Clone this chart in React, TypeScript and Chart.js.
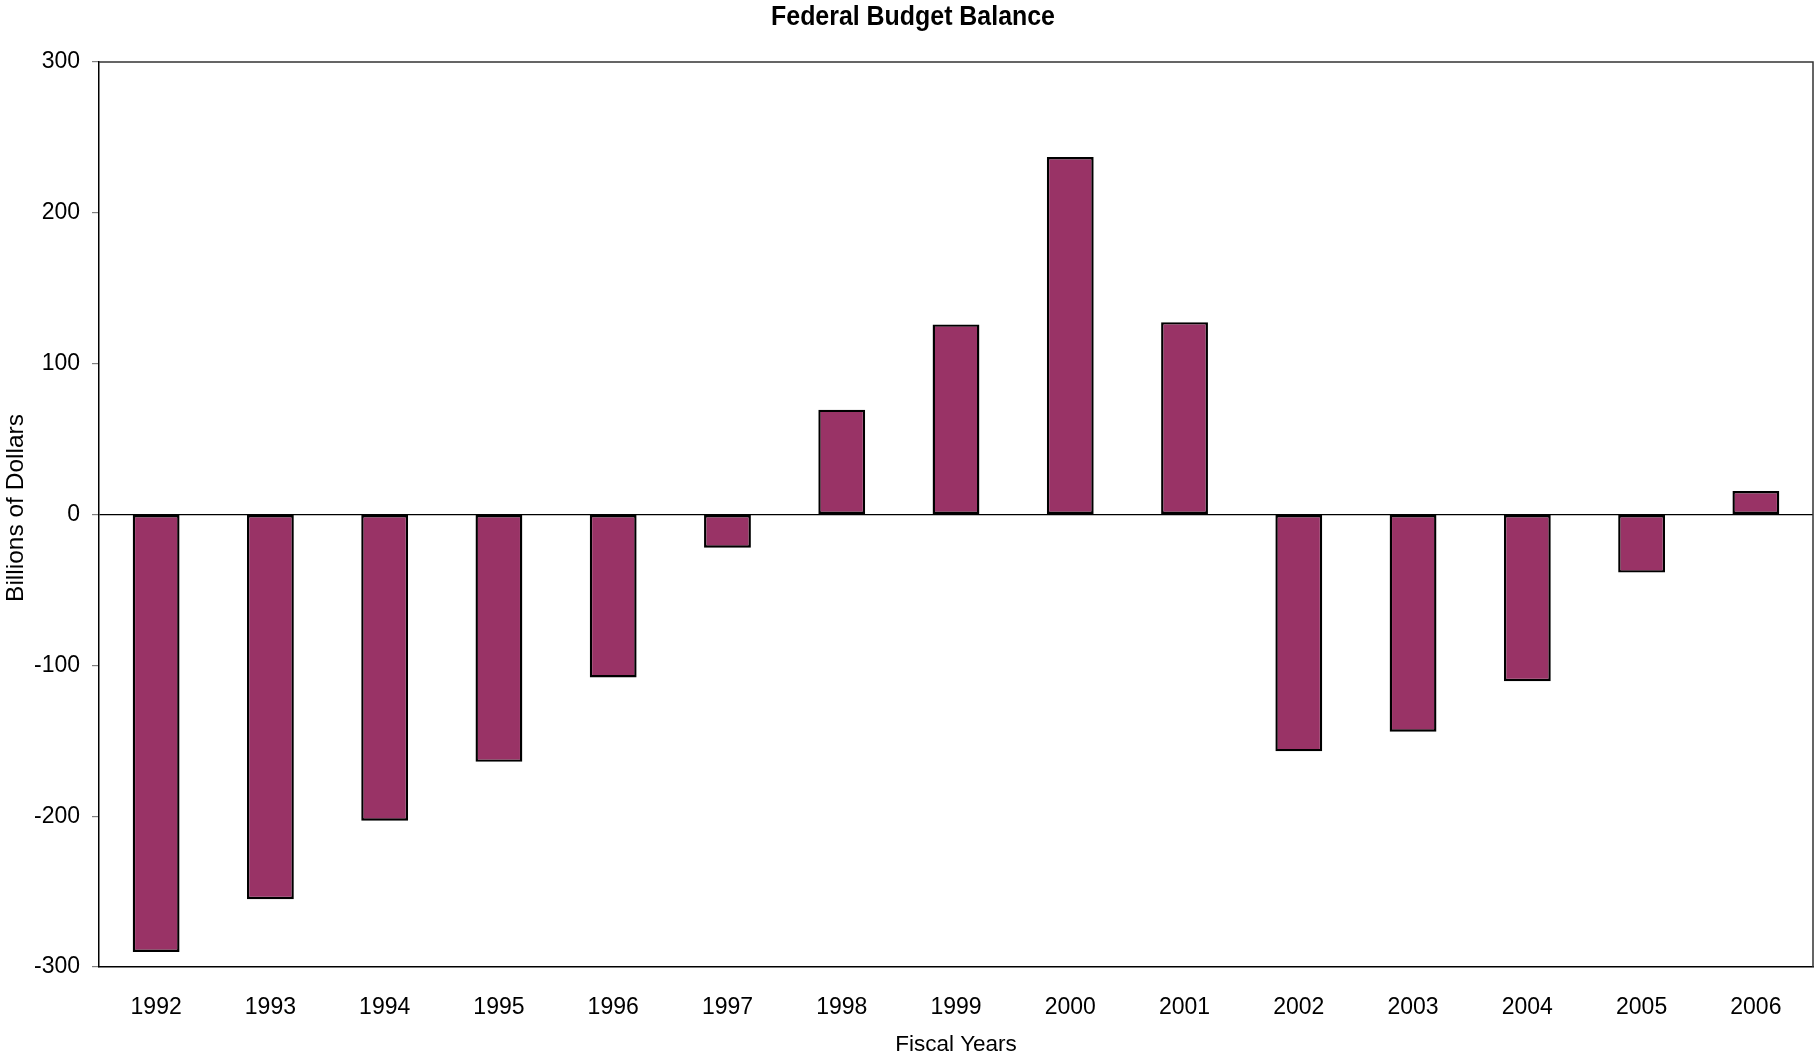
import React, { useEffect, useRef } from "react";
import { Chart, registerables } from "chart.js";

Chart.register(...registerables);

const years = ["1992", "1993", "1994", "1995", "1996", "1997", "1998", "1999", "2000", "2001", "2002", "2003", "2004", "2005", "2006"];
const balance = [-290, -255, -203, -164, -108, -22, 69.5, 126, 237, 127.5, -157, -144, -110.5, -38.5, 15.5];
const yTicks = [-300, -200, -100, 0, 100, 200, 300];
const chartTitle = "Federal Budget Balance";
const xTitle = "Fiscal Years";
const yTitle = "Billions of Dollars";

const FONT = "'Liberation Sans', Arial, sans-serif";

const textPlugin = {
  id: "texts",
  afterDraw(chart: any) {
    const ctx = chart.ctx;
    const a = chart.chartArea;
    ctx.save();
    // plot border (top and right)
    ctx.strokeStyle = "#333";
    ctx.lineWidth = 1.5;
    ctx.beginPath();
    ctx.moveTo(a.left, a.top);
    ctx.lineTo(a.right, a.top);
    ctx.lineTo(a.right, a.bottom);
    ctx.stroke();

    ctx.fillStyle = "#000";
    ctx.textBaseline = "alphabetic";
    ctx.textAlign = "center";
    // title
    ctx.save();
    ctx.font = `bold 28px ${FONT}`;
    ctx.translate(913, 25);
    ctx.scale(0.89, 1);
    ctx.fillText(chartTitle, 0, 0);
    ctx.restore();
    // x title
    ctx.font = `22.5px ${FONT}`;
    ctx.fillText(xTitle, (a.left + a.right) / 2, 1051);
    // y title
    ctx.save();
    ctx.font = `24.5px ${FONT}`;
    ctx.translate(23, 508);
    ctx.rotate(-Math.PI / 2);
    ctx.fillText(yTitle, 0, 0);
    ctx.restore();
    ctx.restore();
  },
};

export default function App() {
  const ref = useRef<HTMLCanvasElement>(null);
  useEffect(() => {
    document.body.style.margin = "0";
    const chart = new Chart(ref.current!, {
      type: "bar",
      data: {
        labels: years,
        datasets: [
          {
            data: balance,
            backgroundColor: "#993366",
            borderColor: "#000",
            borderWidth: 2.4,
            borderSkipped: false,
            barPercentage: 0.41,
            categoryPercentage: 1,
          },
        ],
      },
      options: {
        responsive: false,
        animation: false,
        devicePixelRatio: 1,
        layout: { padding: { top: 62, right: 1, left: 0, bottom: 0 } },
        plugins: { legend: { display: false }, title: { display: false }, tooltip: { enabled: false } },
        scales: {
          x: {
            afterFit: (s: any) => {
              s.height = 89;
            },
            grid: { display: false, drawTicks: false },
            border: { display: true, color: "#000", width: 1.5 },
            ticks: { color: "#000", font: { family: FONT, size: 23 }, padding: 27, maxRotation: 0 },
          },
          y: {
            min: -300,
            max: 300,
            afterFit: (s: any) => {
              s.width = 99;
            },
            afterBuildTicks: (s: any) => {
              s.ticks = yTicks.map((v) => ({ value: v }));
            },
            grid: {
              drawOnChartArea: true,
              color: (c: any) => (c.tick && c.tick.value === 0 ? "#000" : "rgba(0,0,0,0)"),
              lineWidth: 1.2,
              tickColor: "#808080",
              tickLength: 7,
            },
            border: { display: true, color: "#000", width: 1.5 },
            ticks: { color: "#000", font: { family: FONT, size: 23 }, padding: 12 },
          },
        },
      },
      plugins: [textPlugin],
    });
    return () => chart.destroy();
  }, []);
  return (
    <div style={{ width: 1814, height: 1056, background: "#fff" }}>
      <canvas ref={ref} width={1814} height={1056} style={{ display: "block" }} />
    </div>
  );
}
